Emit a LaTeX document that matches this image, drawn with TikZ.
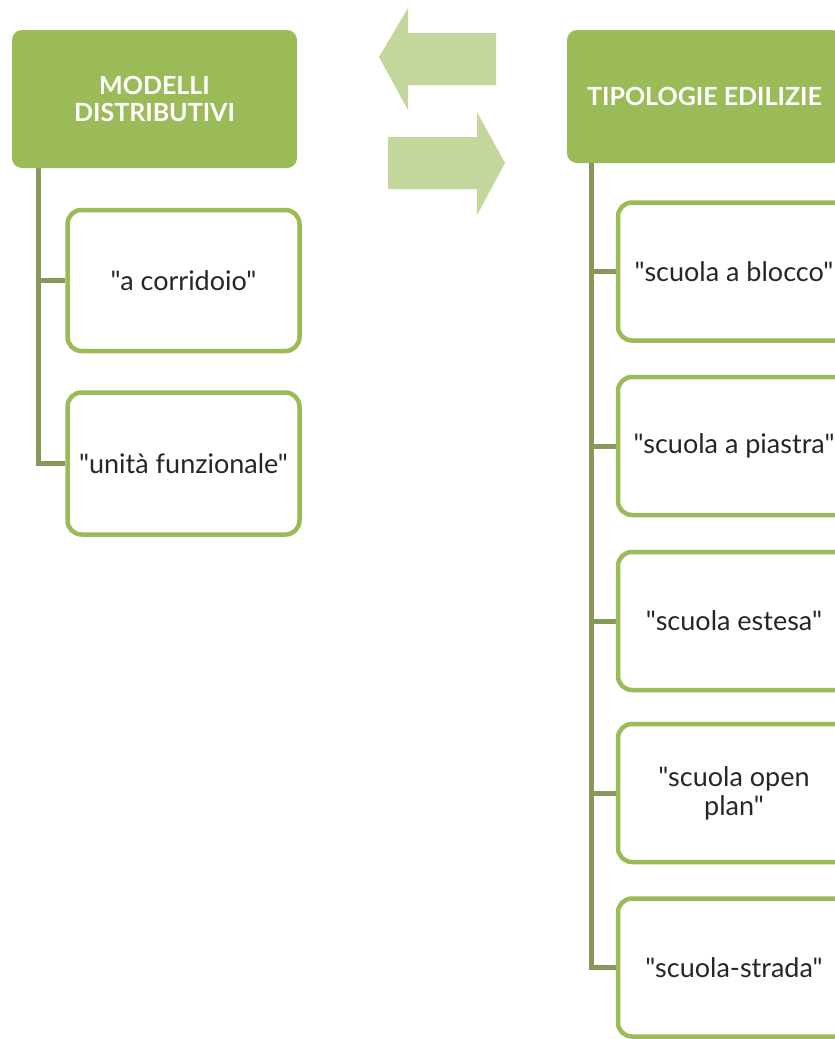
\documentclass[tikz,border=0pt]{standalone}
\usepackage{fontspec}
\setmainfont{Lato}[Ligatures=TeXOff]
\usetikzlibrary{backgrounds}
\definecolor{hdr}{HTML}{9BBB59}
\definecolor{boxc}{HTML}{9BBB59}
\definecolor{arr}{HTML}{C3D69B}
\definecolor{trk}{HTML}{87995A}
\definecolor{txt}{HTML}{262626}
\newcommand{\qq}{\symbol{34}}
\tikzset{
  header/.style={rectangle, rounded corners=10pt, fill=hdr, text=white,
    minimum width=285pt, inner sep=0pt, align=center,
    font=\fontsize{25}{27}\selectfont\bfseries},
  child/.style={rectangle, rounded corners=14pt, draw=boxc, line width=4.5pt, fill=white,
    minimum width=232pt, minimum height=138pt, inner sep=0pt, align=center, text=txt,
    font=\fontsize{27}{29}\selectfont},
  trunk/.style={draw=trk, line width=5pt},
  bigarrow/.style={fill=arr, draw=none}
}
\begin{document}
\begin{tikzpicture}[x=1pt,y=-1pt]
\useasboundingbox (0,0) rectangle (835,1039);
\clip (0,0) rectangle (835,1039);
% exchange arrows
\path[bigarrow] (379,57) -- (408,8) -- (408,33) -- (496,33) -- (496,85) -- (408,85) -- (408,110) -- cycle;
\path[bigarrow] (505,163) -- (477,112) -- (477,137) -- (388,137) -- (388,189) -- (477,189) -- (477,215) -- cycle;
% left tree
\node[header, minimum height=138pt] (lh) at (154.5,99) {MODELLI\\DISTRIBUTIVI};
\node[child, minimum height=141pt] (l1) at (183.5,280.5) {\qq a corridoio\qq};
\node[child, minimum height=142pt] (l2) at (183.5,463.5) {\qq unità funzionale\qq};
% right tree
\node[header, minimum height=133pt, minimum width=275pt] (rh) at (704.5,96.5) {TIPOLOGIE EDILIZIE};
\node[child] (r1) at (734,271.5) {\qq scuola a blocco\qq};
\node[child] (r2) at (734,446) {\qq scuola a piastra\qq};
\node[child] (r3) at (734,621) {\qq scuola estesa\qq};
\node[child] (r4) at (734,793) {\qq scuola open\\plan\qq};
\node[child] (r5) at (734,967.5) {\qq scuola-strada\qq};
\coordinate (lt) at ([xshift=27pt]lh.south west);
\coordinate (rt) at ([xshift=25pt]rh.south west);
\begin{scope}[on background layer]
\fill[white] (0,0) rectangle (835,1039);
\draw[trunk] (lt) |- (l2.west);
\draw[trunk] (lt |- l1.west) -- (l1.west);
\draw[trunk] (rt) |- (r5.west);
\draw[trunk] (rt |- r1.west) -- (r1.west);
\draw[trunk] (rt |- r2.west) -- (r2.west);
\draw[trunk] (rt |- r3.west) -- (r3.west);
\draw[trunk] (rt |- r4.west) -- (r4.west);
\end{scope}
\end{tikzpicture}
\end{document}
